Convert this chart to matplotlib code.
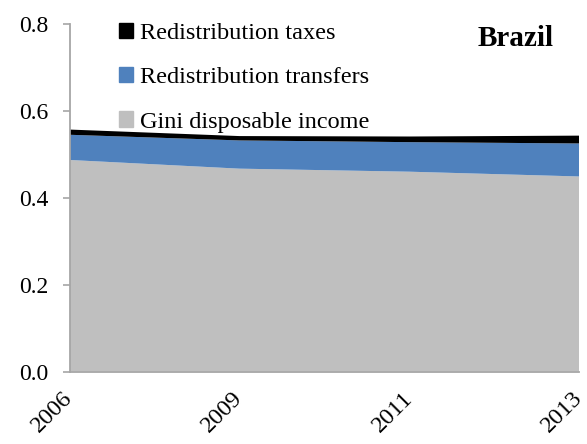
import matplotlib
matplotlib.use("Agg")
import matplotlib.pyplot as plt
from matplotlib.patches import Patch
import numpy as np

years = ["2006", "2009", "2011", "2013"]
gini_disposable = [0.487, 0.467, 0.460, 0.449]
redistribution_transfers = [0.058, 0.065, 0.068, 0.076]
redistribution_taxes = [0.012, 0.010, 0.013, 0.018]

plt.rcParams['font.family'] = ['Liberation Serif', 'DejaVu Serif']

W, H = 587, 444
fig = plt.figure(figsize=(W / 100, H / 100), dpi=100)
left, right, top, bottom = 69.5, 579, 24, 371.5
ax = fig.add_axes([left / W, 1 - bottom / H, (right - left) / W, (bottom - top) / H])

x = np.arange(len(years))
c_gray, c_blue, c_black = "#BFBFBF", "#4F81BD", "#000000"
ax.stackplot(x, gini_disposable, redistribution_transfers, redistribution_taxes,
             colors=[c_gray, c_blue, c_black], linewidth=0)

ax.set_xlim(0, len(years) - 1)
ax.set_ylim(0, 0.8)
ax.set_yticks([0, 0.2, 0.4, 0.6, 0.8])
ax.set_yticklabels(["0.0", "0.2", "0.4", "0.6", "0.8"])
ax.set_xticks(x)
ax.set_xticklabels(years, rotation=45, ha="right", va="center", rotation_mode="anchor")
ax.tick_params(axis='y', labelsize=17, length=5, width=1.2, color="#A6A6A6", pad=10)
ax.tick_params(axis='x', labelsize=17.5, length=0, pad=17)
for s in ["top", "right"]:
    ax.spines[s].set_visible(False)
for s in ["left", "bottom"]:
    ax.spines[s].set_color("#A6A6A6")
    ax.spines[s].set_linewidth(1.3)

handles = [Patch(color=c_black, label="Redistribution taxes"),
           Patch(color=c_blue, label="Redistribution transfers"),
           Patch(color=c_gray, label="Gini disposable income")]
fig.legend(handles=handles, loc="upper left", bbox_to_anchor=(119 / W, 1 - 23 / H),
           frameon=False, fontsize=17.5, handlelength=0.58, handleheight=0.58,
           handletextpad=0.3, labelspacing=0.95, borderpad=0, borderaxespad=0)

fig.text(554 / W, 1 - 39 / H, "Brazil", ha="right", va="center",
         fontsize=21, fontweight="bold")

fig.savefig("out.png", dpi=100)
